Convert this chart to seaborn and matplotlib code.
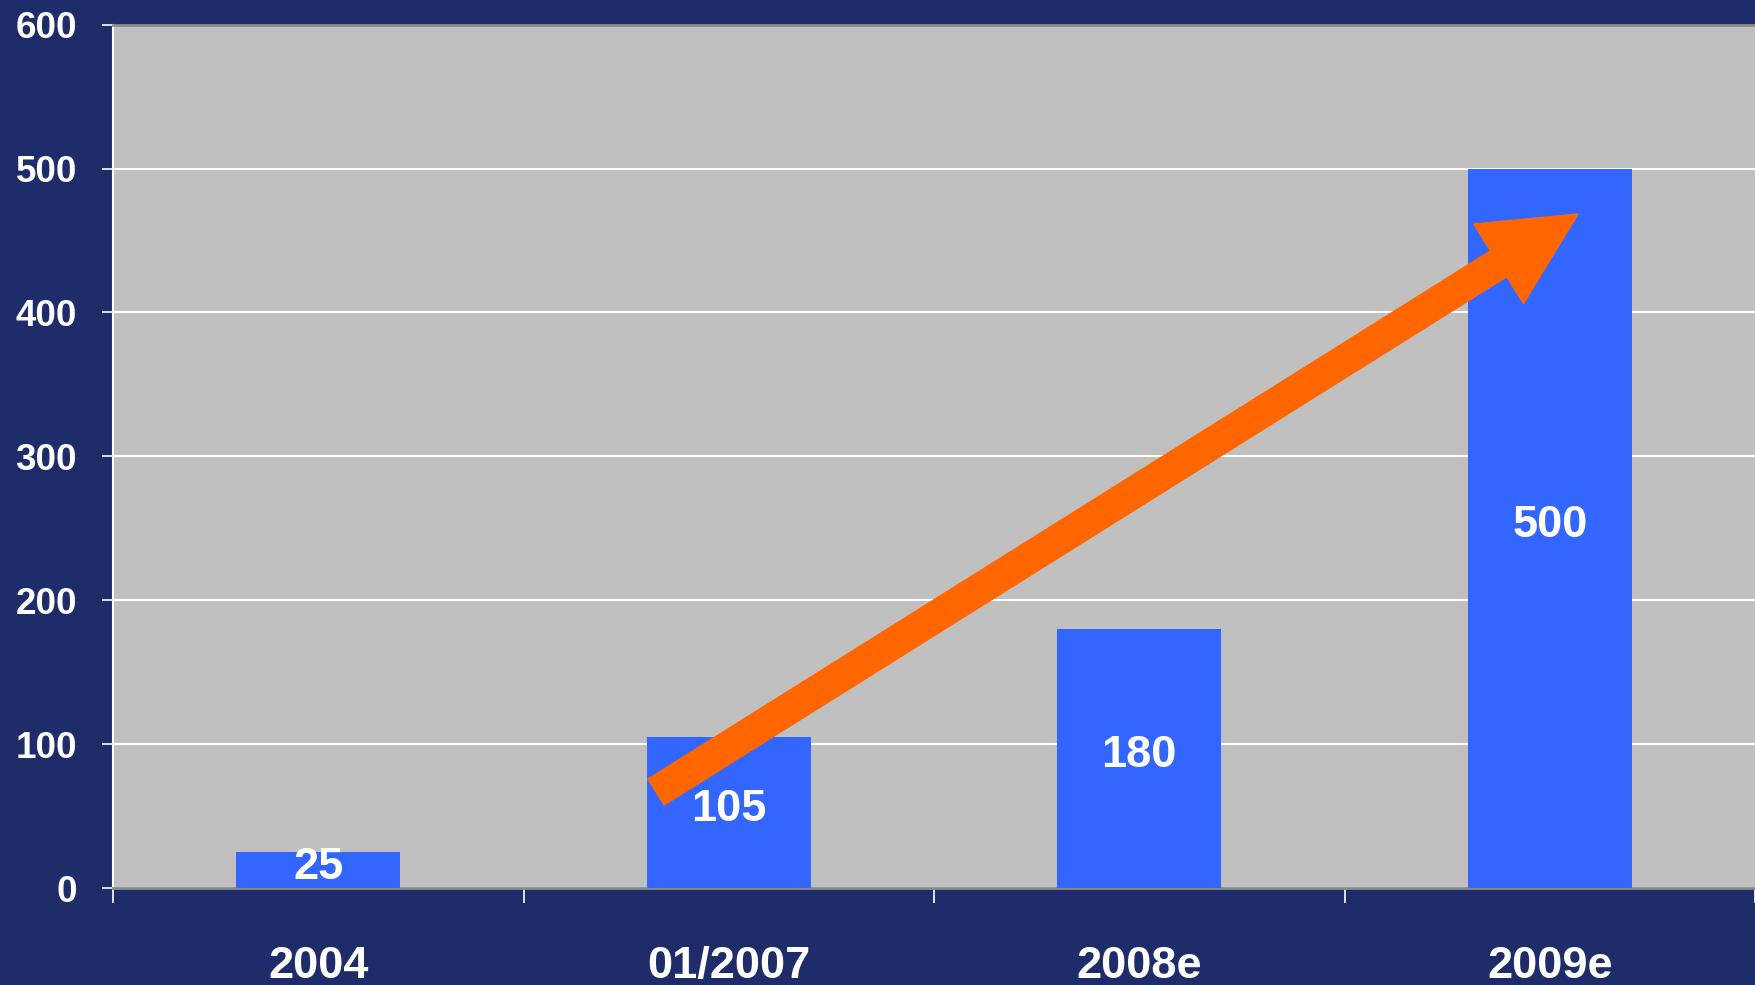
"""
Growth bar chart with trend arrow.
"""

import matplotlib
matplotlib.use('Agg')
import matplotlib.pyplot as plt
import seaborn as sns
import pandas as pd

# Data
CATEGORIES = ['2004', '01/2007', '2008e', '2009e']
VALUES = [25, 105, 180, 500]
Y_TICKS = [0, 100, 200, 300, 400, 500, 600]

# Trend arrow (data coords)
ARROW_TAIL = (0.823, 66.7)
ARROW_TIP = (3.069, 468.4)

# Colours
BG_COLOR = '#1E2D69'
PLOT_BG = '#C0C0C0'
BAR_COLOR = '#3366FF'
ARROW_COLOR = '#FF6600'

sns.set_theme(style='white')
plt.rcParams['font.family'] = ['Liberation Sans', 'DejaVu Sans']
plt.rcParams['font.weight'] = 'bold'

df = pd.DataFrame({'cat': CATEGORIES, 'val': VALUES})

fig = plt.figure(figsize=(17.55, 9.85), dpi=100)
fig.patch.set_facecolor(BG_COLOR)
ax = fig.add_axes([113 / 1755, 1 - 888 / 985, 1 - 113 / 1755, (888 - 24.6) / 985])
ax.set_facecolor(PLOT_BG)

sns.barplot(data=df, x='cat', y='val', color=BAR_COLOR, saturation=1,
            width=0.4, linewidth=0, edgecolor='none', ax=ax, zorder=3)

ax.bar_label(ax.containers[0], labels=[str(v) for v in VALUES], label_type='center',
             color='white', fontsize=32.5, fontweight='bold', padding=2)

ax.set_xlim(-0.5, len(CATEGORIES) - 0.5)
ax.set_ylim(Y_TICKS[0], Y_TICKS[-1])
ax.set_yticks(Y_TICKS)
ax.set_yticklabels([str(t) for t in Y_TICKS], color='white', fontsize=26.5, fontweight='bold')
ax.yaxis.grid(True, color='white', linewidth=1.5, zorder=0)
ax.set_axisbelow(True)

# category labels centred, tick marks on boundaries
ax.set_xticks(range(len(CATEGORIES)))
ax.set_xticklabels(CATEGORIES, color='white', fontsize=32.5, fontweight='bold')
ax.set_xticks([i - 0.5 for i in range(len(CATEGORIES) + 1)], minor=True)
ax.tick_params(axis='x', which='major', bottom=True, length=0, pad=42)
ax.tick_params(axis='x', which='minor', bottom=True, length=11, width=1.2,
               color='white', direction='out')
ax.tick_params(axis='y', left=True, length=8, width=1.2, color='white',
               direction='out', pad=18)
ax.set_xlabel('')
ax.set_ylabel('')

for side in ['top', 'bottom']:
    ax.spines[side].set_color('#8A8A8A')
    ax.spines[side].set_linewidth(2)
ax.spines['left'].set_color('white')
ax.spines['left'].set_linewidth(1.5)
ax.spines['right'].set_visible(False)

ax.annotate('', xy=ARROW_TIP, xytext=ARROW_TAIL,
            arrowprops=dict(arrowstyle='simple,head_length=1.35,head_width=1.35,tail_width=0.44',
                            mutation_scale=50, color=ARROW_COLOR, shrinkA=0, shrinkB=0),
            zorder=5)

plt.savefig('out.png', dpi=100, facecolor=fig.get_facecolor())
plt.close()
